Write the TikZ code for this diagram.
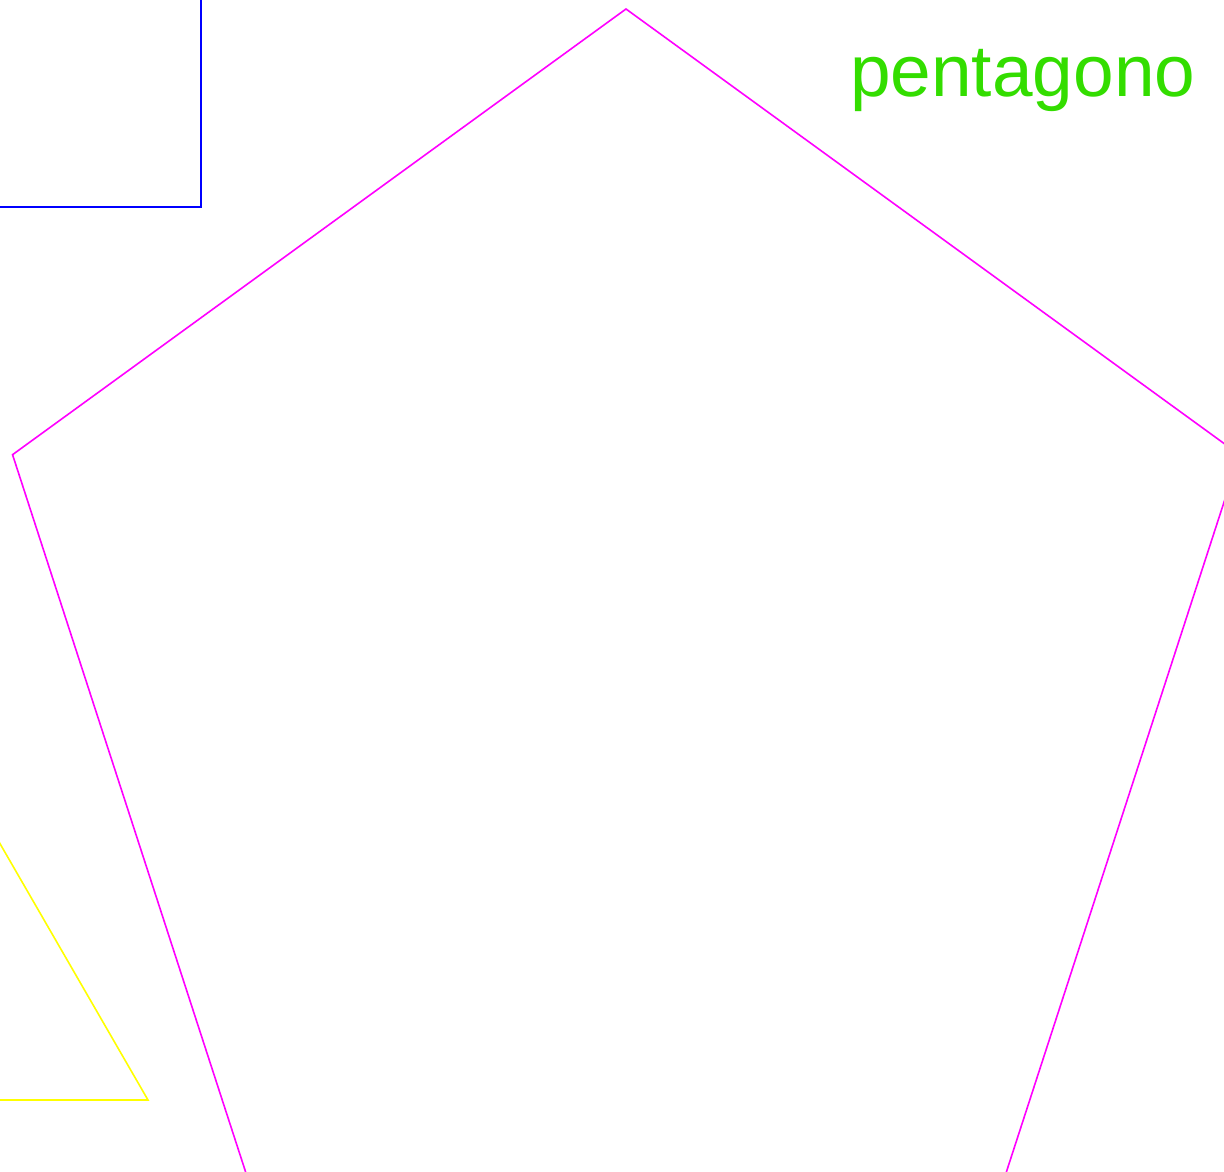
\documentclass[tikz,border=0pt]{standalone}
\usepackage{fontspec}
\setmainfont{Liberation Sans}
\definecolor{shapeblue}{RGB}{0,0,255}
\definecolor{shapemagenta}{RGB}{255,0,255}
\definecolor{shapeyellow}{RGB}{255,255,0}
\definecolor{labelgreen}{RGB}{51,221,0}

\begin{document}
\begin{tikzpicture}[
      x=1pt, y=1pt,
      edge/.style={line width=1.6pt, line join=miter},
      label/.style={font=\fontsize{73}{80}\selectfont, text=labelgreen,
                    inner sep=0pt, anchor=base west}
    ]
    \useasboundingbox (0,0) rectangle (1224,1171);
    \clip (0,0) rectangle (1224,1171);
    % square at the top left
    \draw[edge, shapeblue] (-60,964) rectangle (201,1250);
    % triangle at the bottom left
    \draw[edge, shapeyellow] (148,71) -- (-252,71) -- (-52,417.4) -- cycle;
    % pentagon
    \draw[edge, shapemagenta] (626,517) +(90:645) -- +(162:645)
      -- +(234:645) -- +(306:645) -- +(18:645) -- cycle;
    \node[label] (name) at (850,1074) {pentagono};
  \end{tikzpicture}
\end{document}
